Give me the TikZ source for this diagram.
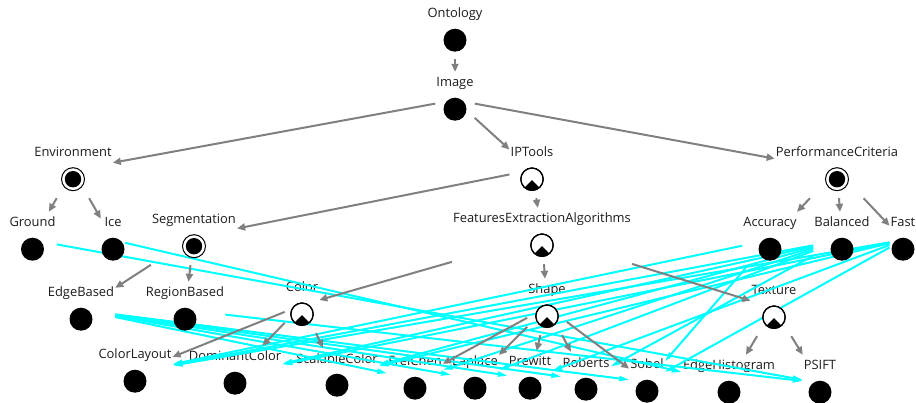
\documentclass[tikz,border=0pt]{standalone}
\usepackage{fontspec}
\setmainfont{Open Sans}
\usetikzlibrary{arrows.meta}
\definecolor{isagray}{RGB}{128,128,128}
\definecolor{linkcyan}{RGB}{0,255,255}
\definecolor{labelink}{RGB}{28,28,28}
\begin{document}
\begin{tikzpicture}[x=1pt, y=-1pt,
  concept/.style={rectangle, inner xsep=1pt, inner ysep=0pt, text height=15pt,
    text depth=41pt, minimum width=24pt, font=\fontsize{12.9}{15}\selectfont, text=labelink},
  isa/.style={draw=isagray, line width=2pt, -{Triangle[length=8pt,width=7pt]}},
  link/.style={draw=linkcyan, line width=2pt, -{Triangle[length=10pt,width=5pt]}},
  dotpic/.pic={\fill (0,0) circle (11.5pt);},
  ringpic/.pic={\draw[line width=1pt, fill=white] (0,0) circle (11.5pt);
    \fill (0,0) circle (8.2pt);},
  halfpic/.pic={\draw[line width=1.2pt, fill=white] (0,0) circle (11.2pt);
    \begin{scope}\clip (0,0) circle (11.2pt);
      \fill (0,1) -- (-15,16) -- (15,16) -- cycle;\end{scope}
    \draw[line width=1.2pt] (0,0) circle (11.2pt);}
]
\useasboundingbox (0,0) rectangle (916,403);

% concepts: label on top, icon below (icons are added after the edges)
\node[concept] (ontology) at (455,31) {Ontology};
\node[concept] (image) at (455,100) {Image};
\node[concept] (env) at (73,170) {Environment};
\node[concept] (iptools) at (532,170) {IPTools};
\node[concept] (perf) at (837,170) {PerformanceCriteria};
\node[concept] (ground) at (32.5,240) {Ground};
\node[concept] (ice) at (113,240) {Ice};
\node[concept] (seg) at (194,237) {Segmentation};
\node[concept] (fea) at (542,236) {FeaturesExtractionAlgorithms};
\node[concept] (acc) at (770,240) {Accuracy};
\node[concept] (bal) at (842,240) {Balanced};
\node[concept] (fast) at (903,240) {Fast};
\node[concept] (edge) at (81,310) {EdgeBased};
\node[concept] (region) at (185,310) {RegionBased};
\node[concept] (color) at (302,305) {Color};
\node[concept] (shape) at (547,307) {Shape};
\node[concept] (texture) at (774,308) {Texture};
\node[concept] (colorlayout) at (135,372) {ColorLayout};
\node[concept] (dominant) at (235,374) {DominantColor};
\node[concept] (scalable) at (337,376) {ScalableColor};
\node[concept] (freichen) at (415,379) {FreiChen};
\node[concept] (laplace) at (475,379) {Laplace};
\node[concept] (prewitt) at (530,379) {Prewitt};
\node[concept] (roberts) at (586,380) {Roberts};
\node[concept] (sobel) at (647,382) {Sobel};
\node[concept] (edgehist) at (729,383) {EdgeHistogram};
\node[concept] (psift) at (820,383) {PSIFT};

% property links between individuals
\foreach \a/\b in {ground/psift, ice/edgehist, region/psift,
    edge/freichen, edge/laplace, edge/prewitt, edge/roberts, edge/sobel,
    acc/colorlayout, acc/sobel,
    bal/colorlayout, bal/dominant, bal/scalable, bal/freichen, bal/laplace, bal/roberts,
    fast/colorlayout, fast/dominant, fast/scalable, fast/prewitt, fast/sobel}
  \draw[link] (\a) -- (\b);

% subclass / instance hierarchy
\foreach \a/\b in {ontology/image, image/env, image/iptools, image/perf,
    env/ground, env/ice, perf/acc, perf/bal, perf/fast,
    iptools/seg, iptools/fea, seg/edge, seg/region,
    fea/color, fea/shape, fea/texture,
    color/colorlayout, color/dominant, color/scalable,
    shape/freichen, shape/laplace, shape/prewitt, shape/roberts, shape/sobel,
    texture/edgehist, texture/psift}
  \draw[isa] (\a) -- (\b);

% icons
\foreach \n in {ontology, image, ground, ice, acc, bal, fast, edge, region,
    colorlayout, dominant, scalable, freichen, laplace, prewitt, roberts, sobel,
    edgehist, psift}
  \pic at ([yshift=19pt]\n.south) {dotpic};
\foreach \n in {env, seg, perf}
  \pic at ([yshift=19pt]\n.south) {ringpic};
\foreach \n in {iptools, fea, color, shape, texture}
  \pic at ([yshift=19pt]\n.south) {halfpic};
\end{tikzpicture}
\end{document}
